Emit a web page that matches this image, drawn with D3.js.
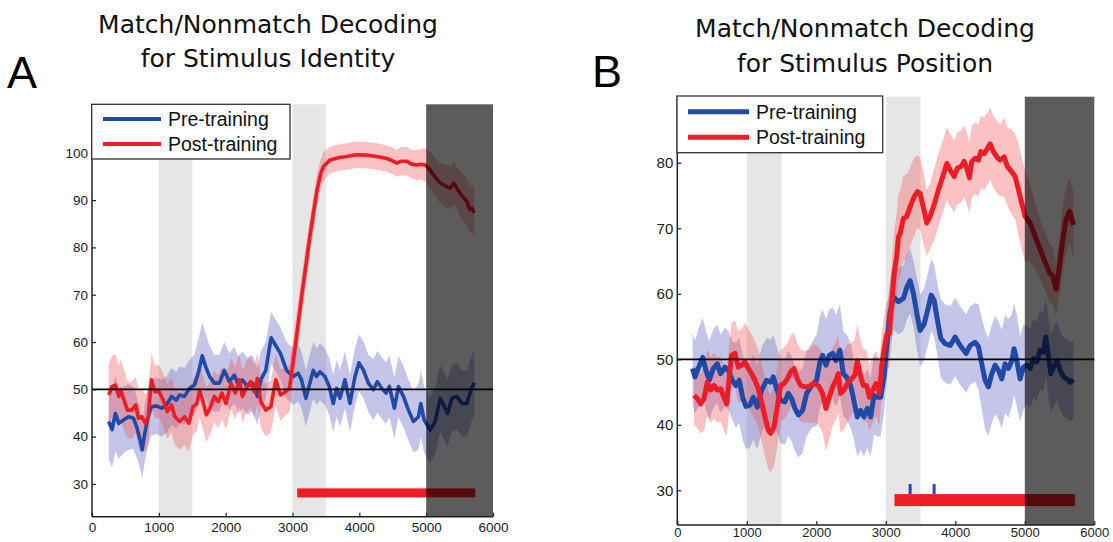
<!DOCTYPE html>
<html>
<head>
<meta charset="utf-8">
<script src="https://cdn.jsdelivr.net/npm/d3@7"></script>
<style>
  html, body { margin: 0; padding: 0; background: #fff; }
  svg { display: block; }
</style>
</head>
<body>
<svg id="chart" width="1113" height="542"></svg>
<script>
// ---------------- DATA ----------------
const xTicks = [0, 1000, 2000, 3000, 4000, 5000, 6000];
const yTicksA = [30, 40, 50, 60, 70, 80, 90, 100];
const yTicksB = [30, 40, 50, 60, 70, 80];
const seriesNames = ["Pre-training", "Post-training"];
const cueEpochs = [[1000, 1500], [3000, 3500]];
const responseEpoch = [5000, 6000];
const chanceLevel = 50;
const titlesA = ["Match/Nonmatch Decoding", "for Stimulus Identity"];
const titlesB = ["Match/Nonmatch Decoding", "for Stimulus Position"];

// [time ms, decoding %, half-width of shaded band]
const preA = [[250,43.2,8],[300,41.5,8],[350,44.9,8],[400,42.8,7.5],[470,43.5,7],[545,44.2,7],[620,43.9,6.5],[670,42,6.5],[720,39.3,6],[750,37.2,6],[790,40.7,6],[840,44.2,6],[890,46.3,6],[965,46.5,6],[1040,46,6],[1115,46.7,6],[1190,48.5,6],[1260,47.7,6],[1310,48.8,6],[1385,48.5,6],[1460,50.2,6],[1535,50.9,6.5],[1600,54,7],[1650,57.1,7],[1700,54.8,7],[1760,52.7,6.5],[1830,51.3,6],[1905,51.3,6],[1980,54,6],[2055,51.6,6],[2130,53,6],[2190,50.9,6],[2250,52,6],[2325,50.6,6],[2400,51.3,6],[2475,48.5,6],[2525,52,6],[2600,54,6],[2680,60.9,5.5],[2760,59,5.5],[2820,57.6,5.5],[2910,54,6],[3010,52.7,6],[3085,53.4,6],[3135,52,6],[3200,48.1,6],[3260,51.3,6],[3310,54,6],[3360,52.7,6],[3410,53.7,6],[3485,52.7,6],[3550,50.6,6],[3610,47,6],[3660,50.2,6],[3710,48.1,6],[3785,52,6],[3860,47,6],[3935,52.7,6],[3995,55.6,6],[4060,54.1,6],[4135,51.3,6],[4210,49.9,6.5],[4270,51.6,6.5],[4335,50.2,6.5],[4400,49.2,6.5],[4450,50.6,6.5],[4525,46,6.5],[4585,50.6,6.5],[4660,48.5,6.5],[4735,45.6,6.5],[4810,43.2,6.5],[4885,44.2,7],[4920,47,7],[4970,43.5,7],[5060,41.4,7],[5135,43.2,7],[5210,48.1,7],[5260,46.7,7],[5320,44.9,7],[5385,48.1,7],[5460,48.5,7],[5535,47,7],[5610,47,7],[5670,49.9,7],[5720,51.4,7]];

const postA = [[250,48.8,6.5],[300,50.6,6.5],[350,50.9,6.5],[400,48.5,6.5],[430,49.9,6.5],[470,48.1,6.5],[530,45.6,6],[595,45.6,6],[655,46.7,6],[695,43.9,6],[745,44.2,6],[800,42.8,6],[840,44.2,6],[890,52,5.6],[940,49.5,5.6],[1005,49.5,5.6],[1065,47.7,5.6],[1125,45.3,5.8],[1190,46.7,5.8],[1240,44.2,6],[1310,43.2,6],[1385,44.2,6],[1450,42.8,6],[1510,46.3,6],[1570,47,5.8],[1610,49.9,5.8],[1660,47.4,5.8],[1710,44.6,5.8],[1765,46,5.5],[1830,48.5,5.5],[1890,47.4,5.5],[1945,49.2,5.5],[2005,47,5.5],[2080,51.3,5.5],[2145,49.2,5.5],[2205,52,5.5],[2250,48.5,5.5],[2315,50.6,5.5],[2375,51.6,5.5],[2425,49.5,5.5],[2475,52.3,5.5],[2525,47.4,5.5],[2600,45.6,5.5],[2675,46.3,5.5],[2750,52,5.5],[2820,48.8,5.5],[2895,49.5,5],[2955,50.2,5],[3050,60,5],[3139,69.9,4.5],[3263,82.6,4],[3363,91.8,3.5],[3420,95.5,3],[3463,97.1,3],[3563,98.5,2.8],[3700,99,2.8],[3812,99.2,2.8],[3950,99.6,2.8],[4112,99.5,2.8],[4262,99.2,2.8],[4411,98.8,2.8],[4480,98.4,2.8],[4561,97.8,2.8],[4620,98.2,3],[4711,98.2,3],[4780,97.6,3],[4861,97.4,3.2],[4920,97.6,3.2],[4986,97.4,3.5],[5050,96.5,3.8],[5110,95.3,4],[5210,93.6,4.2],[5290,93,4.5],[5360,92.5,4.5],[5410,93.6,4.5],[5460,92.5,4.5],[5509,91.4,4.8],[5609,89.7,5],[5649,88,5],[5684,88.3,5],[5719,87.3,5]];

const preB = [[220,48.6,5.5],[254,47.3,5.5],[302,48.6,6],[365,50.3,6],[412,48.3,6],[460,46.8,6],[518,48.6,6],[575,49.3,6],[623,47.8,6],[686,48.8,6],[734,48.3,6],[791,46.8,6],[844,46,6.5],[892,46.8,6.5],[940,44.2,6.5],[988,42.8,6.5],[1045,43,6.5],[1093,44.2,6.5],[1151,42.7,6.5],[1213,45.3,6.5],[1285,46.8,6.5],[1343,46.5,6.5],[1381,47.3,6.5],[1429,45.5,6.5],[1487,43.7,6.5],[1549,43.5,6.5],[1597,44.8,6.5],[1645,44,6.5],[1693,42.5,6.5],[1741,41.5,6.5],[1803,42.2,6.5],[1861,44.8,6.5],[1933,46,6.5],[2005,46.8,7],[2053,49.6,7],[2091,50.6,7],[2139,49.1,7],[2187,50.6,7],[2235,50.9,7],[2283,49.8,7],[2340,51.4,7],[2388,47.8,6.5],[2436,47.3,6.5],[2494,46,6.5],[2542,43.7,6],[2590,41.2,6],[2638,42.2,6],[2686,41.2,6],[2734,42.5,6],[2782,41.2,6],[2830,44.5,6],[2878,44.2,6],[2926,44.2,6],[2974,47.3,5.5],[3012,51.9,5.5],[3060,57,5],[3110,59.5,5],[3182,58.8,5],[3254,59.3,5],[3302,61,5],[3350,62,5],[3398,60,5],[3446,57,5.5],[3494,54.4,5.5],[3552,55.4,5.5],[3614,58,5.5],[3652,59.8,5.5],[3695,59,5.5],[3743,56,5.5],[3791,53.2,6],[3854,52.4,6],[3926,52.1,6],[3998,53.4,6],[4070,52.1,6],[4156,50.9,6],[4213,52.1,6],[4285,52.6,6],[4333,51.9,6.5],[4381,49.3,7],[4429,46.8,7.5],[4477,45.8,7.5],[4525,47.8,7.5],[4573,49.1,7.5],[4621,48.3,7.5],[4669,47,7.5],[4717,49.3,7.5],[4765,48.6,7.5],[4813,49.8,7],[4846,51.6,7],[4885,49.8,7],[4933,47,6.5],[4981,48.8,6.5],[5029,49.1,6],[5077,48.6,6],[5125,50.1,6],[5173,49.6,6],[5221,51.4,6],[5269,51.1,6],[5302,53.4,6],[5341,50.4,6],[5374,47.8,6],[5413,48.8,6],[5461,49.8,6],[5509,48.3,6],[5557,47.3,6],[5605,47,6],[5653,46.5,6],[5701,46.9,6]];

const postB = [[240,44.5,4.5],[288,44,4.5],[336,43.2,4.5],[384,44,5],[432,46.5,5],[480,45.3,5],[528,46,5],[575,45.3,5],[623,45.5,5],[671,44.2,5],[710,43.2,5],[748,47.3,5],[782,50.6,5],[830,50.9,5],[878,48.8,5.5],[926,49.1,5.5],[974,49.6,6],[1021,48.6,6],[1069,47.8,6],[1117,46.8,6],[1165,45.5,6],[1213,43.5,6],[1261,41.2,6],[1309,39.2,6],[1343,38.7,6],[1391,39.7,6],[1439,42.7,6],[1487,46,5.5],[1535,46.3,5.5],[1583,47,5.5],[1631,48.1,5.5],[1679,48.6,5.5],[1727,47,5.5],[1775,46,5.5],[1823,45.8,5.5],[1885,45.8,5.5],[1957,46.3,6],[2029,46,6],[2091,44.8,6],[2139,42.5,6.5],[2187,44.2,6.5],[2235,45.8,6],[2283,46.8,6],[2317,47.8,6],[2350,44.8,6],[2398,45.3,6],[2446,46.3,6],[2508,47,5.5],[2556,47.6,5.5],[2590,49.8,5.5],[2628,47.8,5.5],[2676,46,5.5],[2724,46,5.5],[2763,44.2,5],[2811,45.3,5],[2859,46.3,5],[2907,44.8,5],[2940,48.8,5],[2974,51.4,5],[3012,53.7,5],[3050,54,5.5],[3080,58,6],[3120,63,6.5],[3160,66,6.5],[3182,68.7,6.5],[3206,69.2,6.5],[3254,71.5,6.5],[3302,71.8,6.5],[3350,73.3,6],[3408,74.8,6],[3456,75.6,5.5],[3494,75.3,5.5],[3542,73.1,5.5],[3590,70.8,5],[3638,71.8,5],[3695,73.6,5.5],[3758,75.9,5.5],[3820,77.9,5.5],[3878,79.9,5.5],[3926,78.9,5.5],[3983,77.9,5.5],[4031,79.2,5.5],[4079,79.4,5.5],[4127,80.2,5.5],[4165,79.2,5.5],[4204,77.7,5.5],[4237,80.2,5.5],[4285,80.7,5.5],[4333,80.4,5.5],[4367,81.7,5.5],[4415,81.4,5.5],[4463,82.2,5.5],[4501,82.9,5.5],[4549,81.7,5.5],[4597,80.9,5.5],[4645,80.4,5.5],[4703,80.9,6],[4750,79.4,6],[4813,78.6,6.5],[4861,77.9,6.5],[4909,75.9,7],[4957,73.8,7],[5005,71.8,7],[5077,70.8,6],[5149,68.8,5],[5221,66.8,4.5],[5293,64.8,4.5],[5355,63.2,4.5],[5403,62.7,4.5],[5451,60.7,4],[5499,64.3,4.5],[5547,68.3,5],[5595,71.3,5],[5643,72.6,5],[5701,70.5,5]];

// significance bars: [start ms, end ms]
const sigBarA = [3070, 5735];
const sigLevelA = 28.1;
const sigBarB = [3125, 5724];
const sigLevelB = 28.5;
const preSigTicksB = [3350, 3695];

// ---------------- DRAW ----------------
const svg = d3.select("#chart");
const BLUE = "#1f4aa8", RED = "#ee1c25";
const BLUE_BAND = "rgb(110,110,200)", RED_BAND = "rgb(240,80,80)";

function panel(cfg) {
  const x = d3.scaleLinear().domain([0, 6000]).range([cfg.left, cfg.right]);
  const y = d3.scaleLinear().domain(cfg.yDomain).range([cfg.bottom, cfg.top]);
  const g = svg.append("g");

  g.selectAll("rect.cue").data(cueEpochs).enter().append("rect")
    .attr("x", d => x(d[0])).attr("width", d => x(d[1]) - x(d[0]))
    .attr("y", cfg.top).attr("height", cfg.bottom - cfg.top)
    .attr("fill", "#e6e6e6");

  const area = d3.area().x(d => x(d[0])).y0(d => y(d[1] - d[2])).y1(d => y(d[1] + d[2]));
  const line = d3.line().x(d => x(d[0])).y(d => y(d[1]));

  g.append("path").datum(cfg.pre).attr("d", area).attr("fill", BLUE_BAND).attr("fill-opacity", 0.4);
  g.append("path").datum(cfg.post).attr("d", area).attr("fill", RED_BAND).attr("fill-opacity", 0.35);
  g.append("path").datum(cfg.pre).attr("d", line).attr("fill", "none").attr("stroke", BLUE)
    .attr("stroke-width", cfg.lw).attr("stroke-linejoin", "round");
  g.append("path").datum(cfg.post).attr("d", line).attr("fill", "none").attr("stroke", RED)
    .attr("stroke-width", cfg.lw).attr("stroke-linejoin", "round");

  g.append("line").attr("x1", x(0)).attr("x2", x(6000))
    .attr("y1", y(chanceLevel)).attr("y2", y(chanceLevel))
    .attr("stroke", "#000").attr("stroke-width", 1.8);

  const by = y(cfg.sigLevel);
  g.append("rect").attr("x", x(cfg.sigBar[0])).attr("width", x(cfg.sigBar[1]) - x(cfg.sigBar[0]))
    .attr("y", by - cfg.barH / 2).attr("height", cfg.barH).attr("fill", "#ee1c25");
  if (cfg.preTicks) {
    g.selectAll("line.pt").data(cfg.preTicks).enter().append("line")
      .attr("x1", d => x(d)).attr("x2", d => x(d))
      .attr("y1", by - cfg.barH / 2).attr("y2", by - cfg.barH / 2 - 10)
      .attr("stroke", BLUE).attr("stroke-width", 3);
  }

  g.append("rect").attr("x", x(responseEpoch[0])).attr("width", x(responseEpoch[1]) - x(responseEpoch[0]))
    .attr("y", cfg.top).attr("height", cfg.bottom - cfg.top)
    .attr("fill", "#000").attr("fill-opacity", 0.64);

  const xAxis = g.append("g").attr("transform", `translate(0,${cfg.bottom})`)
    .call(d3.axisBottom(x).tickValues(xTicks).tickFormat(d3.format("d")).tickSize(-4).tickPadding(cfg.xPad));
  const yAxis = g.append("g").attr("transform", `translate(${cfg.left},0)`)
    .call(d3.axisLeft(y).tickValues(cfg.yTicks).tickSize(-4).tickPadding(4));
  [xAxis, yAxis].forEach(a => {
    a.select(".domain").remove();
    a.selectAll("line").attr("stroke", "#222").attr("stroke-width", 1.2);
    a.selectAll("text").attr("fill", "#222").attr("font-family", "Liberation Sans, Arial, sans-serif");
  });
  xAxis.selectAll("text").attr("font-size", cfg.xFont);
  yAxis.selectAll("text").attr("font-size", cfg.yFont);
  g.append("line").attr("x1", cfg.left).attr("x2", cfg.left).attr("y1", cfg.top).attr("y2", cfg.bottom)
    .attr("stroke", "#222").attr("stroke-width", 1.5);
  g.append("line").attr("x1", cfg.left).attr("x2", cfg.right).attr("y1", cfg.bottom).attr("y2", cfg.bottom)
    .attr("stroke", "#222").attr("stroke-width", 1.5);

  const L = cfg.legend;
  g.append("rect").attr("x", L.x0).attr("y", L.y0).attr("width", L.x1 - L.x0).attr("height", L.y1 - L.y0)
    .attr("fill", "#fff").attr("stroke", "#333").attr("stroke-width", 1.3);
  const lg = g.selectAll("g.leg").data(seriesNames).enter().append("g");
  lg.append("line").attr("x1", L.lx0).attr("x2", L.lx1)
    .attr("y1", (d, i) => L.ly[i]).attr("y2", (d, i) => L.ly[i])
    .attr("stroke", (d, i) => i === 0 ? BLUE : RED).attr("stroke-width", L.lw);
  lg.append("text").attr("x", L.tx).attr("y", (d, i) => L.ly[i] + 7)
    .attr("font-family", "Liberation Sans, Arial, sans-serif").attr("font-size", 19.5)
    .attr("fill", "#111").text(d => d);

  svg.append("text").attr("x", cfg.titleX).attr("y", cfg.titleY[0]).attr("text-anchor", "middle")
    .attr("font-family", "DejaVu Sans, sans-serif").attr("font-size", 25).attr("fill", "#111").text(cfg.titles[0]);
  svg.append("text").attr("x", cfg.titleX).attr("y", cfg.titleY[1]).attr("text-anchor", "middle")
    .attr("font-family", "DejaVu Sans, sans-serif").attr("font-size", 25).attr("fill", "#111").text(cfg.titles[1]);
  svg.append("text").attr("x", cfg.letterX).attr("y", cfg.letterY)
    .attr("font-family", "Liberation Sans, Arial, sans-serif").attr("font-size", 45).attr("fill", "#000").text(cfg.letter);
}

panel({
  left: 92, right: 493, top: 104.3, bottom: 516.7,
  yDomain: [23.07, 110.25], yTicks: yTicksA,
  pre: preA, post: postA, lw: 3.6,
  sigBar: sigBarA, sigLevel: sigLevelA, barH: 9,
  xFont: 13.5, yFont: 13.5, xPad: 6,
  legend: { x0: 91.7, x1: 290, y0: 104.3, y1: 159, lx0: 103, lx1: 161, ly: [119, 144], tx: 168, lw: 3.8 },
  titles: titlesA, titleX: 268, titleY: [33, 67], letter: "A", letterX: 7, letterY: 88
});

panel({
  left: 677.3, right: 1094.3, top: 96.7, bottom: 525,
  yDomain: [24.7, 90.09], yTicks: yTicksB,
  pre: preB, post: postB, lw: 5,
  sigBar: sigBarB, sigLevel: sigLevelB, barH: 12, preTicks: preSigTicksB,
  xFont: 13, yFont: 15, xPad: 3,
  legend: { x0: 677, x1: 882.7, y0: 96, y1: 152.7, lx0: 688, lx1: 749, ly: [111.7, 137.3], tx: 756, lw: 5 },
  titles: titlesB, titleX: 865, titleY: [37, 71.5], letter: "B", letterX: 592, letterY: 87
});
</script>
</body>
</html>
